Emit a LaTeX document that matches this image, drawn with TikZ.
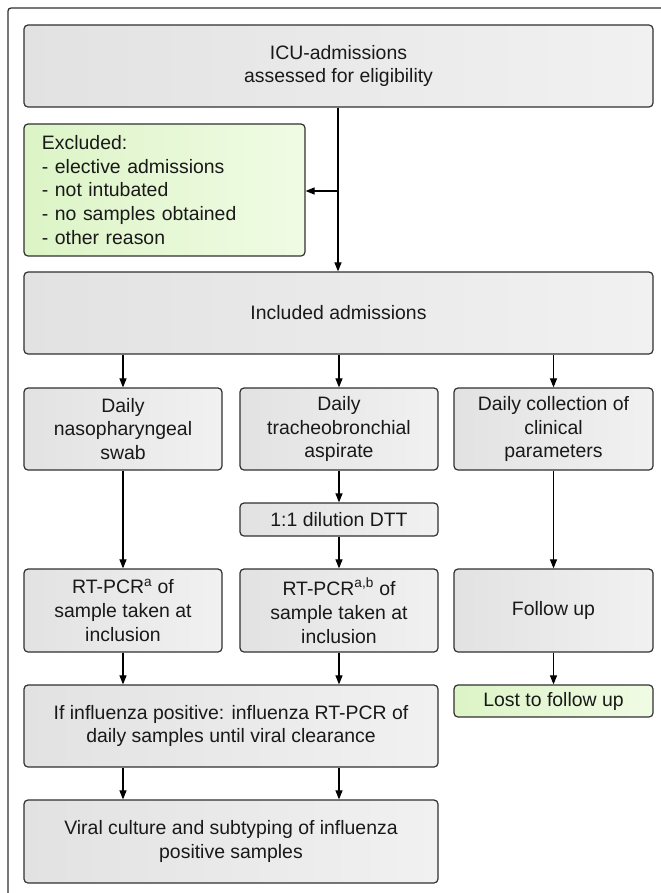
\documentclass[tikz,border=0pt]{standalone}
\usepackage{fontspec}
\setmainfont{Liberation Sans}
\usetikzlibrary{arrows.meta}
\definecolor{boxline}{HTML}{303030}
\definecolor{grayL}{HTML}{E2E2E2}
\definecolor{grayR}{HTML}{F1F1F1}
\definecolor{greenL}{HTML}{DCF4C6}
\definecolor{greenR}{HTML}{F0FBE4}
\tikzset{
  box/.style={draw=boxline, line width=1.2bp, rounded corners=4bp,
    left color=grayL, right color=grayR, inner sep=0pt, align=center,
    font=\fontsize{19.5}{24}\selectfont, text=black!90},
  greenbox/.style={box, left color=greenL, right color=greenR},
  arr/.style={line width=1.1bp, draw=black, -{Triangle[length=9bp,width=7bp]}},
  ln/.style={line width=1.1bp, draw=black}
}
\begin{document}
\begin{tikzpicture}[x=1bp,y=-1bp]
\useasboundingbox (0,0) rectangle (661,893);
\draw[line width=1.3bp, draw=boxline, rounded corners=3bp] (8,893) -- (8,8) -- (661,8);

\node[box, minimum width=629bp, minimum height=82bp] (top) at (338.5,66) {ICU-admissions\\assessed for eligibility};
\node[greenbox, minimum width=281bp, minimum height=132bp, align=left, text width=245bp] (excl) at (164.5,190)
  {Excluded:\\- elective admissions\\- not intubated\\- no samples obtained\\- other reason};
\node[box, minimum width=629bp, minimum height=82bp] (incl) at (338.5,313) {Included admissions};

\node[box, minimum width=198bp, minimum height=82bp] (swab) at (123,429) {Daily\\nasopharyngeal\\swab};
\node[box, minimum width=198bp, minimum height=82bp] (trach) at (339,429) {Daily\\tracheobronchial\\aspirate};
\node[box, minimum width=199bp, minimum height=82bp] (clin) at (553.5,429) {Daily collection of\\clinical\\parameters};

\node[box, minimum width=198bp, minimum height=33bp] (dtt) at (339,519.5) {1:1 dilution DTT};

\node[box, minimum width=198bp, minimum height=83bp] (rt1) at (123,610.5) {RT-PCR\textsuperscript{a} of\\sample taken at\\inclusion};
\node[box, minimum width=198bp, minimum height=83bp] (rt2) at (339,610.5) {RT-PCR\textsuperscript{a,b} of\\sample taken at\\inclusion};
\node[box, minimum width=199bp, minimum height=83bp] (fu) at (553.5,610.5) {Follow up};

\node[greenbox, minimum width=199bp, minimum height=32bp] (lost) at (553.5,701) {Lost to follow up};
\node[box, minimum width=414bp, minimum height=82bp] (infl) at (231,726) {If influenza positive: influenza RT-PCR of\\daily samples until viral clearance};
\node[box, minimum width=414bp, minimum height=83bp] (viral) at (231,841.5) {Viral culture and subtyping of influenza\\positive samples};

\coordinate (j) at (338,191);
\draw[arr] (top.south -| j) -- (incl.north -| j);
\draw[arr] (j) -- (excl.east |- j);

\draw[arr] (swab.north |- incl.south) -- (swab.north);
\draw[arr] (trach.north |- incl.south) -- (trach.north);
\draw[arr] (clin.north |- incl.south) -- (clin.north);

\draw[arr] (swab.south) -- (rt1.north);
\draw[arr] (trach.south) -- (dtt.north);
\draw[arr] (dtt.south) -- (rt2.north);
\draw[arr] (clin.south) -- (fu.north);

\draw[arr] (rt1.south) -- (rt1.south |- infl.north);
\draw[arr] (rt2.south) -- (rt2.south |- infl.north);
\draw[arr] (fu.south) -- (lost.north);

\draw[arr] (rt1.south |- infl.south) -- (rt1.south |- viral.north);
\draw[arr] (rt2.south |- infl.south) -- (rt2.south |- viral.north);
\end{tikzpicture}
\end{document}
